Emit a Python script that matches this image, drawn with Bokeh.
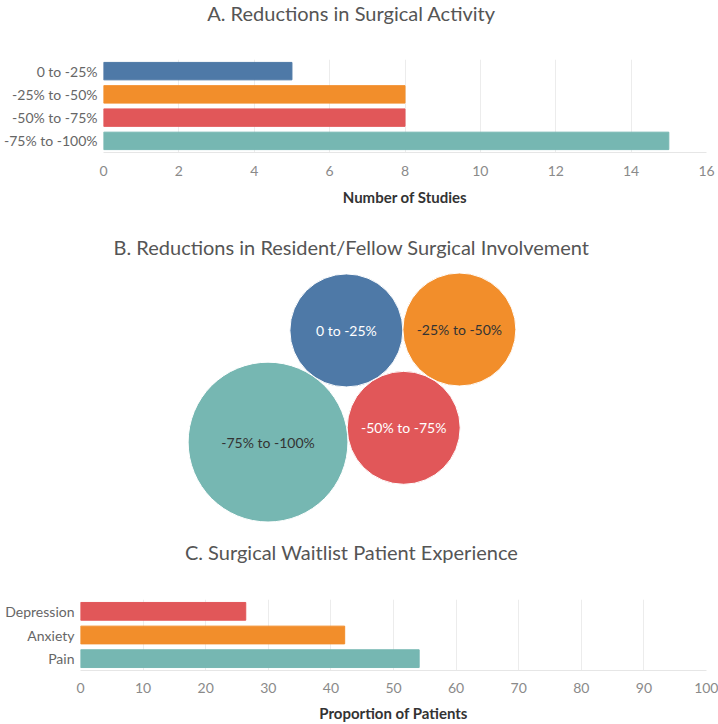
import math
from bokeh.plotting import figure
from bokeh.models import FactorRange, Label, FixedTicker, ColumnDataSource
from bokeh.layouts import column
from bokeh.embed import file_html
from bokeh.resources import INLINE
from bokeh.core.properties import value

# ---------------- data ----------------
a_categories = ["0 to -25%", "-25% to -50%", "-50% to -75%", "-75% to -100%"]
a_studies = [5, 8, 8, 15]
a_ticks = [0, 2, 4, 6, 8, 10, 12, 14, 16]

b_categories = ["0 to -25%", "-25% to -50%", "-50% to -75%", "-75% to -100%"]
b_studies = [1, 1, 1, 2]

c_categories = ["Depression", "Anxiety", "Pain"]
c_proportion = [26.4, 42.2, 54.1]
c_ticks = [0, 10, 20, 30, 40, 50, 60, 70, 80, 90, 100]

titles = ["A. Reductions in Surgical Activity",
          "B. Reductions in Resident/Fellow Surgical Involvement",
          "C. Surgical Waitlist Patient Experience"]

# ---------------- styles ----------------
FONT = "Lato"
BLUE, ORANGE, RED, TEAL = "#4E79A7", "#F28E2B", "#E15759", "#76B7B2"
cat_colors = {"0 to -25%": BLUE, "-25% to -50%": ORANGE,
              "-50% to -75%": RED, "-75% to -100%": TEAL}
c_colors = {"Depression": RED, "Anxiety": ORANGE, "Pain": TEAL}
b_label_colors = {"0 to -25%": "#ffffff", "-25% to -50%": "#333333",
                  "-50% to -75%": "#ffffff", "-75% to -100%": "#333333"}

W = 718
TITLE_X = 351
TITLE_SIZE = "20px"
RIGHT = 12


def blank_fig(H):
    p = figure(width=W, height=H, x_range=(0, W), y_range=(0, H),
               x_axis_type=None, y_axis_type=None, output_backend="svg",
               toolbar_location=None, min_border=0)
    p.frame_align = False
    p.outline_line_color = None
    p.grid.visible = False
    return p


def title_label(text, y):
    return Label(x=TITLE_X, y=y, x_units="screen", y_units="screen", text=text,
                 text_align="center", text_baseline="middle", text_font=FONT,
                 text_font_size=TITLE_SIZE, text_color="#555555")


def bar_fig(cats, vals, colors, ticks, xlabel, H, frame_left, frame_top,
            bottom_border, tick_standoff, label_standoff):
    p = figure(width=W, height=H, y_range=FactorRange(factors=cats[::-1]),
               x_range=(ticks[0], ticks[-1]), output_backend="svg",
               toolbar_location=None, min_border_left=frame_left,
               min_border_right=RIGHT, min_border_top=frame_top,
               min_border_bottom=bottom_border)
    p.frame_align = False
    p.outline_line_color = None
    src = ColumnDataSource(dict(cat=cats, val=vals, col=[colors[c] for c in cats]))
    p.hbar(y="cat", right="val", left=0, height=0.75, color="col", source=src)
    xa = p.xaxis[0]
    xa.ticker = FixedTicker(ticks=ticks)
    xa.axis_line_color = "#e6e6e6"
    xa.major_tick_line_color = None
    xa.minor_tick_line_color = None
    xa.major_tick_out = 0
    xa.major_tick_in = 0
    xa.minor_tick_out = 0
    xa.minor_tick_in = 0
    xa.major_label_standoff = tick_standoff
    xa.major_label_text_font = FONT
    xa.major_label_text_font_size = "14px"
    xa.major_label_text_color = "#8a8a8a"
    xa.axis_label = xlabel
    xa.axis_label_standoff = label_standoff
    xa.axis_label_text_font = FONT
    xa.axis_label_text_font_size = "15px"
    xa.axis_label_text_font_style = "bold"
    xa.axis_label_text_color = "#333333"
    ya = p.yaxis[0]
    ya.axis_line_color = None
    ya.major_tick_line_color = None
    ya.minor_tick_line_color = None
    ya.major_tick_out = 0
    ya.major_tick_in = 0
    ya.major_label_standoff = 6
    ya.major_label_text_font = FONT
    ya.major_label_text_font_size = "14px"
    ya.major_label_text_color = "#666666"
    p.xgrid.ticker = FixedTicker(ticks=ticks)
    p.xgrid.grid_line_color = "#ececec"
    p.ygrid.grid_line_color = None
    return p


# ---------------- panel A ----------------
tA = blank_fig(40)
tA.add_layout(title_label(titles[0], 40 - 12.5))
pA = bar_fig(a_categories, a_studies, cat_colors, a_ticks, "Number of Studies",
             180, 103, 19, 68, 13, 9)

# ---------------- panel B (packed bubbles) ----------------
HB = 310
pB = blank_fig(HB)

K = 56.5
radii = [K * math.sqrt(v) for v in b_studies]


def tangent(c1, r1, c2, r2, r, side):
    d1, d2 = r1 + r, r2 + r
    dx, dy = c2[0] - c1[0], c2[1] - c1[1]
    D = math.hypot(dx, dy)
    a = (d1 ** 2 - d2 ** 2 + D ** 2) / (2 * D)
    h = math.sqrt(max(d1 ** 2 - a ** 2, 0.0))
    ux, uy = dx / D, dy / D
    return (c1[0] + a * ux - side * h * uy, c1[1] + a * uy + side * h * ux)


i_big = b_studies.index(max(b_studies))
i_blue, i_orange, i_red = 0, 1, 2
centers = [None] * 4
centers[i_big] = (0.0, 0.0)
ang = math.radians(6)
dd = radii[i_big] + radii[i_red]
centers[i_red] = (dd * math.cos(ang), dd * math.sin(ang))
centers[i_blue] = tangent(centers[i_big], radii[i_big], centers[i_red], radii[i_red], radii[i_blue], 1)
centers[i_orange] = tangent(centers[i_red], radii[i_red], centers[i_blue], radii[i_blue], radii[i_orange], -1)

minx = min(c[0] - r for c, r in zip(centers, radii))
maxx = max(c[0] + r for c, r in zip(centers, radii))
miny = min(c[1] - r for c, r in zip(centers, radii))
maxy = max(c[1] + r for c, r in zip(centers, radii))
cx_target, cy_target = 351.5, HB - 177
sx = cx_target - (minx + maxx) / 2
sy = cy_target - (miny + maxy) / 2
bx = [c[0] + sx for c in centers]
by = [c[1] + sy for c in centers]

srcB = ColumnDataSource(dict(x=bx, y=by, r=radii, cat=b_categories,
                             col=[cat_colors[c] for c in b_categories],
                             tcol=[b_label_colors[c] for c in b_categories]))
pB.circle(x="x", y="y", radius="r", fill_color="col", line_color="white",
          line_width=1, source=srcB)
pB.text(x="x", y="y", text="cat", text_color="tcol", text_align="center",
        text_baseline="middle", text_font=value(FONT), text_font_size="14px",
        source=srcB)
pB.add_layout(title_label(titles[1], HB - 26))

# ---------------- panel C ----------------
tC = blank_fig(40)
tC.add_layout(title_label(titles[2], 40 - 21))
pC = bar_fig(c_categories, c_proportion, c_colors, c_ticks, "Proportion of Patients",
             154, 80, 29, 54, 12, 8)

layout = column(tA, pA, pB, tC, pC, spacing=0)
open("out.html", "w").write(file_html(layout, INLINE))
